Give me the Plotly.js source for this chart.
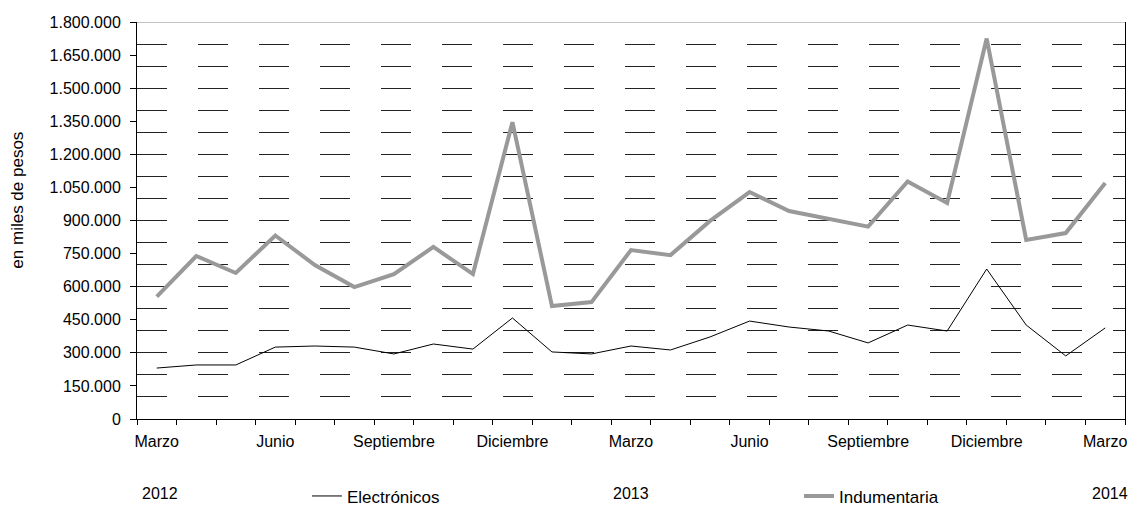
<!DOCTYPE html>
<html>
<head>
<meta charset="utf-8">
<script src="https://cdn.plot.ly/plotly-3.0.1.min.js"></script>
<style>
  html, body { margin: 0; padding: 0; background: #fff; }
  #chart { width: 1131px; height: 506px; }
</style>
</head>
<body>
<div id="chart"></div>
<script>
// Monthly categories, March 2012 to March 2014
const months = [
  'Marzo','Abril','Mayo','Junio','Julio','Agosto','Septiembre','Octubre','Noviembre','Diciembre','Enero','Febrero',
  'Marzo','Abril','Mayo','Junio','Julio','Agosto','Septiembre','Octubre','Noviembre','Diciembre','Enero','Febrero',
  'Marzo'
];
const yearLabels = ['2012', '2013', '2014'];
const yearIndex = [0, 12, 24];

// Values in miles de pesos
const electronicos = [231000, 245000, 245000, 326000, 331000, 326000, 295000, 340000, 317000, 458000, 304000, 295000,
  331000, 313000, 372000, 444000, 417000, 399000, 345000, 426000, 399000, 680000, 426000, 286000, 413000];
const indumentaria = [555000, 739000, 662000, 832000, 698000, 598000, 657000, 780000, 657000, 1346000, 512000, 530000,
  766000, 743000, 898000, 1029000, 943000, 907000, 872000, 1077000, 979000, 1725000, 812000, 843000, 1070000];

const yTicks = [0, 150000, 300000, 450000, 600000, 750000, 900000, 1050000, 1200000, 1350000, 1500000, 1650000, 1800000];

const xIdx = months.map((_, i) => i);
const labelIdx = xIdx.filter(i => i % 3 === 0);
const labelText = labelIdx.map(i => months[i]);

const font = 'Liberation Sans, Arial, sans-serif';

const traces = [
  {
    x: xIdx, y: electronicos, name: 'Electrónicos', type: 'scatter', mode: 'lines',
    line: { color: '#000000', width: 1 }, yaxis: 'y2', legend: 'legend'
  },
  {
    x: xIdx, y: indumentaria, name: 'Indumentaria', type: 'scatter', mode: 'lines',
    line: { color: '#999999', width: 4 }, legend: 'legend2'
  }
];

const layout = {
  width: 1131, height: 506,
  margin: { l: 137, r: 6, t: 22, b: 87, autoexpand: false },
  paper_bgcolor: '#ffffff', plot_bgcolor: 'rgba(0,0,0,0)',
  separators: ',.',
  font: { family: font, size: 16, color: '#000' },
  showlegend: true,
  xaxis: {
    range: [-0.5, 24.5],
    tickmode: 'array', tickvals: labelIdx, ticktext: labelText,
    ticks: '', showgrid: false, zeroline: false,
    ticklabelstandoff: 8,
    showline: true, linecolor: '#000', linewidth: 1,
    tickfont: { family: font, size: 16 },
    minor: { tickmode: 'linear', tick0: -0.5, dtick: 1, ticks: 'outside', ticklen: 5, tickcolor: '#000', tickwidth: 1, showgrid: false },
    fixedrange: true
  },
  yaxis: {
    range: [0, 1800000],
    tickmode: 'array', tickvals: yTicks, tickformat: ',d',
    ticks: 'outside', ticklen: 6, tickcolor: '#000',
    ticklabelstandoff: 6,
    showgrid: false, zeroline: false,
    showline: true, linecolor: '#000', linewidth: 1, mirror: true,
    tickfont: { family: font, size: 16 },
    fixedrange: true
  },
  yaxis2: {
    overlaying: 'y', side: 'left',
    range: [0, 1800000],
    tickmode: 'linear', tick0: 0, dtick: 100000,
    showticklabels: false, ticks: '',
    showgrid: true, gridcolor: '#222222', gridwidth: 1, griddash: '30px,31px',
    zeroline: false, showline: false,
    fixedrange: true
  },
  legend: {
    x: 0.172, xanchor: 'left', y: -0.195, yanchor: 'middle',
    orientation: 'h', bgcolor: 'rgba(0,0,0,0)',
    font: { family: font, size: 17 }
  },
  legend2: {
    x: 0.670, xanchor: 'left', y: -0.195, yanchor: 'middle',
    orientation: 'h', bgcolor: 'rgba(0,0,0,0)',
    font: { family: font, size: 17 }
  },
  shapes: [
    { type: 'line', xref: 'paper', x0: 0, x1: 1, yref: 'y', y0: 1800000, y1: 1800000,
      line: { color: '#888888', width: 1 } }
  ],
  annotations: [
    {
      text: 'en miles de pesos', textangle: -90,
      xref: 'paper', x: 0, xanchor: 'center', xshift: -119,
      yref: 'paper', y: 0.55, yanchor: 'middle',
      showarrow: false, font: { family: font, size: 17 }
    }
  ].concat(yearIndex.map((xi, k) => (k === 2 ? {
    text: yearLabels[k], xref: 'paper', x: 1, xanchor: 'right', xshift: 5,
    yref: 'paper', y: 0, yanchor: 'middle', yshift: -74,
    showarrow: false, font: { family: font, size: 16 }
  } : {
    text: yearLabels[k], xref: 'x', x: xi, yref: 'paper', y: 0, yanchor: 'middle',
    yshift: -74, xshift: k === 0 ? 3 : 0,
    showarrow: false, font: { family: font, size: 16 }
  })))
};

Plotly.newPlot('chart', traces, layout, { displayModeBar: false, staticPlot: true });
</script>
</body>
</html>
